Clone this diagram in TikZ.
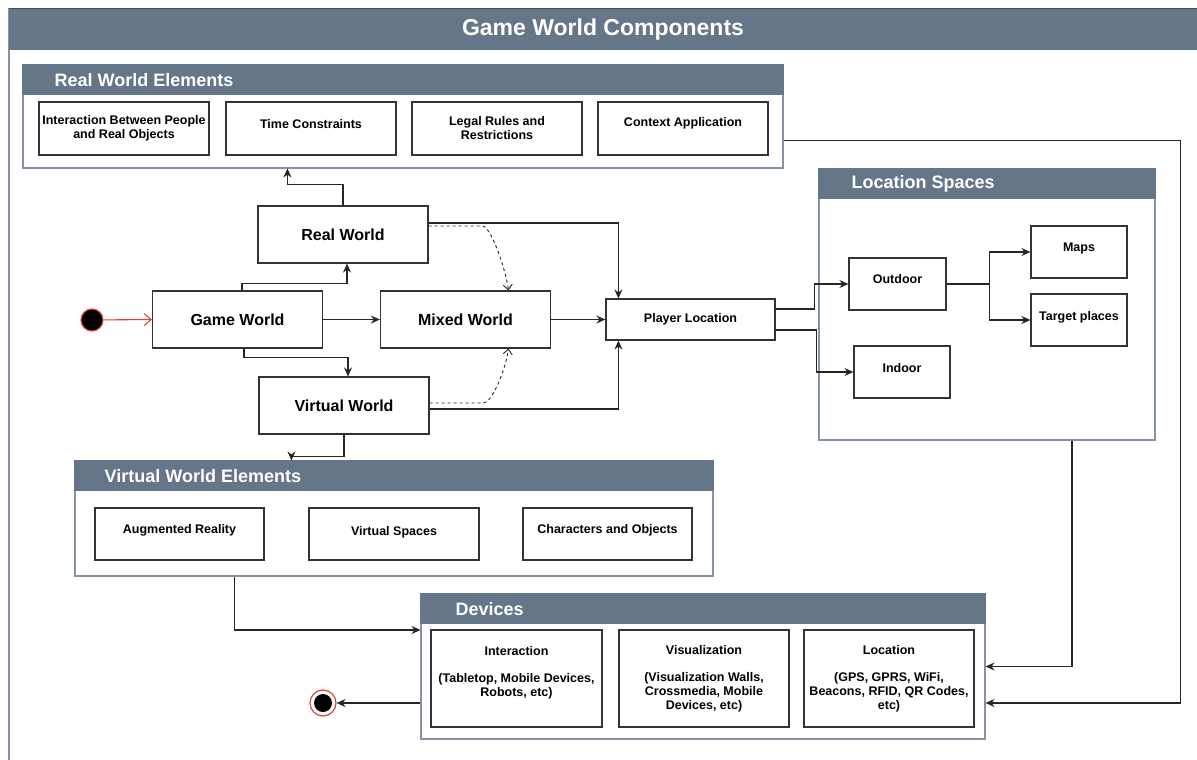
\documentclass[tikz,border=0pt]{standalone}
\usepackage{fontspec}
\setmainfont{Liberation Sans}
\usetikzlibrary{arrows.meta,calc}

\definecolor{slate}{HTML}{647687}
\definecolor{slateline}{HTML}{8593A2}
\definecolor{boxline}{HTML}{333333}
\definecolor{startred}{HTML}{E0403A}

\tikzset{
  cell/.style={draw=boxline, fill=white, line width=1.2pt, inner sep=2pt, align=center, font=\bfseries\fontsize{12.5}{14}\selectfont},
  cellfont/.style={inner sep=0pt, align=center, font=\bfseries\fontsize{12.5}{14}\selectfont},
  world/.style={cell, minimum width=170pt, minimum height=57pt, font=\bfseries\fontsize{16}{19}\selectfont},
  group/.style={draw=slateline, fill=white, line width=1.1pt, inner sep=0pt},
  grouptitle/.style={anchor=west, inner sep=0pt, text=white, font=\bfseries\fontsize{18}{21}\selectfont},
  flow/.style={draw=black!85, line width=1.1pt, -{Stealth[length=9pt,width=8pt,inset=3pt]}},
  hint/.style={draw=black!85, line width=0.9pt, dashed, -{Straight Barb[length=5pt,width=9pt]}},
}

\begin{document}
\begin{tikzpicture}[x=1pt,y=1pt,yscale=-1,xscale=1]
\path[use as bounding box, clip] (0,0) rectangle (1197,760);

% outer frame
\draw[draw=slateline, line width=1.2pt, fill=white] (9,9) rectangle (1210,775);
\fill[slate] (9,9) rectangle (1210,50);
\draw[draw=black!70, line width=1pt] (9,9) -- (1210,9);
\node[text=white, font=\bfseries\fontsize{23}{26}\selectfont] (title) at (603,30) {Game World Components};

% real world elements
\node[group, minimum width=760pt, minimum height=103pt] (rwe) at (403,116.5) {};
\fill[slate] (rwe.north west) rectangle ($(rwe.north east)+(0,31)$);
\node[grouptitle] (rwet) at ($(rwe.north west)+(32,15.5)$) {Real World Elements};
\node[cell, minimum width=170pt, minimum height=53pt] (ipo) at (124,128.5) {Interaction Between People\\and Real Objects};
\node[cell, minimum width=170pt, minimum height=53pt, label={[cellfont,yshift=4pt]center:Time Constraints}] (tc) at (311,128.5) {};
\node[cell, minimum width=170pt, minimum height=53pt] (lrr) at (497,128.5) {Legal Rules and\\Restrictions};
\node[cell, minimum width=170pt, minimum height=53pt, label={[cellfont,yshift=5pt]center:Context Application}] (ctx) at (683,128.5) {};

% worlds
\node[circle, fill=black, draw=startred, line width=1.2pt, minimum size=22pt, inner sep=0pt] (start) at (92,320) {};
\node[world] (rw) at (343,234.5) {Real World};
\node[world] (gw) at (237.5,319.5) {Game World};
\node[world] (mw) at (465.5,319.5) {Mixed World};
\node[world] (vw) at (344,405.5) {Virtual World};
\node[cell, minimum width=169pt, minimum height=41pt] (pl) at (690.5,319.5) {Player Location};

% location spaces
\node[group, minimum width=336pt, minimum height=271pt] (lsp) at (987,304.5) {};
\fill[slate] (lsp.north west) rectangle ($(lsp.north east)+(0,31)$);
\node[grouptitle] (lspt) at ($(lsp.north west)+(33,15.5)$) {Location Spaces};
\node[cell, minimum width=97pt, minimum height=52pt, label={[cellfont,yshift=5pt]center:Outdoor}] (outd) at (897.5,284) {};
\node[cell, minimum width=96pt, minimum height=52pt, label={[cellfont,yshift=4pt]center:Indoor}] (ind) at (902,372) {};
\node[cell, minimum width=96pt, minimum height=52pt, label={[cellfont,yshift=4pt]center:Maps}] (maps) at (1079,252) {};
\node[cell, minimum width=96pt, minimum height=52pt, label={[cellfont,yshift=3pt]center:Target places}] (tgt) at (1079,320) {};

% virtual world elements
\node[group, minimum width=638pt, minimum height=115pt] (vwe) at (394,518.5) {};
\fill[slate] (vwe.north west) rectangle ($(vwe.north east)+(0,31)$);
\node[grouptitle] (vwet) at ($(vwe.north west)+(30,15.5)$) {Virtual World Elements};
\node[cell, minimum width=169pt, minimum height=52pt, label={[cellfont,yshift=4pt]center:Augmented Reality}] (ar) at (179.5,534) {};
\node[cell, minimum width=170pt, minimum height=52pt, label={[cellfont,yshift=2pt]center:Virtual Spaces}] (vs) at (394,534) {};
\node[cell, minimum width=169pt, minimum height=52pt, label={[cellfont,yshift=4pt]center:Characters and Objects}] (cho) at (607.5,534) {};

% devices
\node[group, minimum width=564pt, minimum height=145pt] (dev) at (703,666.5) {};
\fill[slate] (dev.north west) rectangle ($(dev.north east)+(0,31)$);
\node[grouptitle] (devt) at ($(dev.north west)+(35,15.5)$) {Devices};
\node[cell, minimum width=171pt, minimum height=97pt, label={[cellfont,yshift=6pt]center:Interaction\\[13pt](Tabletop, Mobile Devices,\\Robots, etc)}] (dint) at (516.5,678.5) {};
\node[cell, minimum width=170pt, minimum height=97pt] (dvis) at (704,678.5) {Visualization\\[13pt](Visualization Walls,\\Crossmedia, Mobile\\Devices, etc)};
\node[cell, minimum width=170pt, minimum height=97pt] (dloc) at (889,678.5) {Location\\[13pt](GPS, GPRS, WiFi,\\Beacons, RFID, QR Codes,\\etc)};
\node[circle, draw=startred, fill=white, line width=1.2pt, minimum size=26pt, inner sep=0pt] (stop) at (323,703) {};
\fill (stop) circle (9);

% connectors
\draw[startred, line width=1.1pt, -{Straight Barb[length=7pt,width=12pt]}] (start) -- (gw.west);
\draw[flow] ($(gw.north)+(4.5,0)$) -- ++(0,-7) -| ($(rw.south)+(4,0)$);
\draw[flow] ($(gw.south)+(6.5,0)$) -- ++(0,9) -| ($(vw.north)+(4,0)$);
\draw[flow] (gw.east) -- (mw.west);
\draw[flow] (mw.east) -- (pl.west);
\draw[flow] ($(rw.east)+(0,-11.5)$) -| ($(pl.north west)+(13,0)$);
\draw[flow] ($(vw.east)+(0,3.5)$) -| ($(pl.south west)+(13,0)$);
\draw[hint] ($(rw.east)+(0,-8.5)$) -- ++(54,0) .. controls +(8,0) and +(-3,-22) .. ($(mw.north)+(43,0)$);
\draw[hint] ($(vw.east)+(0,-2.5)$) -- ++(54,0) .. controls +(8,0) and +(-3,22) .. ($(mw.south)+(43,0)$);
\draw[flow] (rw.north) -- ++(0,-21) -| ($(rwe.south west)+(265,0)$);
\draw[flow] (vw.south) -- ++(0,22) -| ($(vwe.north west)+(217,0)$);
\draw[flow] ($(pl.east)+(0,-10.5)$) -- ++(39,0) |- (outd.west);
\draw[flow] ($(pl.east)+(0,10.5)$) -- ++(41,0) |- (ind.west);
\draw[flow] (outd.east) -- ++(43,0) |- (maps.west);
\draw[flow] (outd.east) -- ++(43,0) |- (tgt.west);
\draw[flow] ($(lsp.south)+(85,0)$) |- (dev.east);
\draw[flow] ($(rwe.south east)+(0,-28)$) -- ++(397,0) |- ($(dev.east)+(0,36.5)$);
\draw[flow] ($(vwe.south west)+(160,0)$) |- ($(dev.west)+(0,-36.5)$);
\draw[flow] ($(dev.west)+(0,36.5)$) -- (stop);

\end{tikzpicture}
\end{document}
